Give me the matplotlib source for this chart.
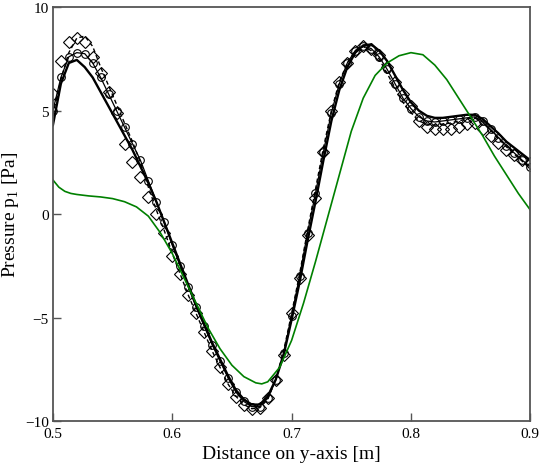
import matplotlib
matplotlib.use("Agg")
import matplotlib.pyplot as plt
import numpy as np

plt.rcParams['font.family'] = ['Liberation Serif', 'DejaVu Serif']
plt.rcParams['mathtext.fontset'] = 'custom'
plt.rcParams['mathtext.rm'] = 'Liberation Serif'

# positions along the y-axis for the black series (61 samples)
y_pos = np.linspace(0.5, 0.9, 61)

# thick solid reference curve
p_solid = [4.3, 6.3, 7.3, 7.45, 7.1, 6.6, 5.9, 5.2, 4.5, 3.8,
           3.1, 2.3, 1.5, 0.6, -0.4, -1.4, -2.4, -3.4, -4.4, -5.3,
           -6.2, -7.0, -7.8, -8.5, -8.95, -9.2, -9.2, -8.8, -8.0, -6.8,
           -5.1, -3.3, -1.3, 0.6, 2.6, 4.5, 6.0, 7.1, 7.8, 8.15,
           8.2, 7.9, 7.4, 6.7, 6.0, 5.4, 5.0, 4.75, 4.65, 4.65,
           4.7, 4.75, 4.8, 4.8, 4.6, 4.25, 3.9, 3.5, 3.2, 2.9, 2.6]

# thin line with circles
p_circle = [5.0, 6.6, 7.6, 7.8, 7.75, 7.3, 6.6, 5.8, 5.0, 4.2,
            3.4, 2.6, 1.6, 0.6, -0.4, -1.5, -2.5, -3.5, -4.5, -5.4,
            -6.3, -7.1, -7.9, -8.6, -9.05, -9.3, -9.3, -8.9, -8.0, -6.7,
            -4.9, -3.0, -0.9, 1.0, 3.0, 4.9, 6.3, 7.3, 7.9, 8.1,
            8.0, 7.6, 7.0, 6.3, 5.6, 5.1, 4.7, 4.5, 4.45, 4.5,
            4.55, 4.6, 4.65, 4.7, 4.5, 4.1, 3.7, 3.3, 2.95, 2.6, 2.3]

# dashed line
p_dashed = [4.8, 6.5, 7.8, 8.5, 8.6, 8.1, 7.1, 6.2, 5.3, 4.4,
            3.5, 2.5, 1.3, 0.2, -0.8, -1.9, -2.9, -3.9, -4.8, -5.7,
            -6.6, -7.4, -8.2, -8.8, -9.2, -9.4, -9.35, -8.95, -8.0, -6.6,
            -4.8, -2.9, -0.8, 1.2, 3.2, 5.0, 6.4, 7.3, 7.9, 8.1,
            7.9, 7.5, 6.8, 6.1, 5.4, 4.9, 4.5, 4.35, 4.3, 4.35,
            4.4, 4.5, 4.6, 4.65, 4.45, 4.05, 3.65, 3.25, 2.9, 2.55, 2.25]

# diamonds (markers only)
p_diamond = [5.8, 7.4, 8.3, 8.5, 8.3, 7.6, 6.8, 5.9, 4.9, 3.4,
             2.5, 1.8, 0.85, 0.0, -0.9, -2.0, -2.9, -3.9, -4.8, -5.7,
             -6.6, -7.4, -8.2, -8.85, -9.2, -9.4, -9.35, -8.9, -8.0, -6.8,
             -4.8, -3.1, -1.0, 0.8, 3.0, 5.0, 6.4, 7.3, 7.9, 8.1,
             8.0, 7.7, 7.1, 6.4, 5.8, 5.2, 4.5, 4.2, 4.1, 4.1,
             4.1, 4.2, 4.35, 4.4, 4.1, 3.75, 3.45, 3.1, 2.85, 2.6, 2.45]

# green curve
y_green = [0.5, 0.505, 0.51, 0.515, 0.52, 0.53, 0.54, 0.55, 0.56, 0.57,
           0.58, 0.59, 0.60, 0.61, 0.62, 0.63, 0.64, 0.65, 0.66, 0.67,
           0.675, 0.68, 0.69, 0.70, 0.71, 0.72, 0.73, 0.74, 0.75, 0.76,
           0.77, 0.78, 0.79, 0.80, 0.81, 0.82, 0.83, 0.84, 0.85, 0.86,
           0.87, 0.88, 0.89, 0.90]
p_green = [1.65, 1.3, 1.1, 1.0, 0.95, 0.88, 0.83, 0.75, 0.6, 0.35,
           -0.1, -0.9, -1.9, -3.1, -4.3, -5.5, -6.5, -7.3, -7.85, -8.15,
           -8.2, -8.1, -7.4, -6.1, -4.3, -2.3, -0.2, 1.9, 4.0, 5.6,
           6.7, 7.3, 7.65, 7.8, 7.7, 7.2, 6.5, 5.6, 4.7, 3.8,
           2.8, 1.9, 1.0, 0.2]

fig = plt.figure(figsize=(5.4, 4.77), dpi=100)
ax = fig.add_axes([0.098, 0.115, 0.884, 0.868])

ax.plot(y_pos, p_solid, color='black', lw=1.7)
ax.plot(y_pos, p_circle, color='black', lw=0.9, marker='o', ms=5.5,
        mfc='none', mew=0.8)
ax.plot(y_pos, p_dashed, color='black', lw=1.0, ls=(0, (3, 2)))
ax.plot(y_pos, p_diamond, ls='none', marker='D', ms=6, mfc='none',
        mec='black', mew=0.8)
ax.plot(y_green, p_green, color='#008000', lw=1.2)

ax.set_xlim(0.5, 0.9)
ax.set_ylim(-10, 10)
ax.set_xticks([0.5, 0.6, 0.7, 0.8, 0.9])
ax.set_yticks([-10, -5, 0, 5, 10])
ax.tick_params(direction='in', length=6, width=1, color='#555555',
               labelsize=11)
ax.tick_params(axis='x', pad=4)
ax.tick_params(axis='y', pad=3)
for sp in ax.spines.values():
    sp.set_color('#555555')
    sp.set_linewidth(1.3)

ax.set_xlabel('Distance on y-axis [m]', fontsize=14, labelpad=4)
ax.set_ylabel(r'Pressure p$_{\mathregular{1}}$ [Pa]', fontsize=14, labelpad=3)

fig.savefig('out.png', dpi=100)
